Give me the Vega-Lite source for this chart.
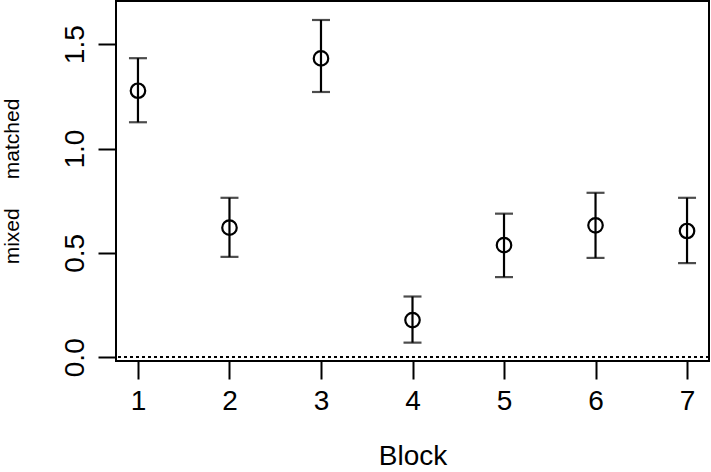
{
  "$schema": "https://vega.github.io/schema/vega-lite/v6.json",
  "width": 593,
  "height": 360,
  "autosize": {"type": "none"},
  "padding": {"left": 116, "top": 1, "right": 2, "bottom": 111},
  "background": "white",
  "config": {
    "view": {"stroke": "black", "strokeWidth": 2},
    "font": "Liberation Sans",
    "axis": {
      "grid": false,
      "domain": false,
      "tickColor": "black",
      "tickWidth": 2,
      "tickSize": 18,
      "labelColor": "black",
      "titleColor": "black",
      "titleFontWeight": "normal",
      "labelFont": "Liberation Sans",
      "titleFont": "Liberation Sans"
    }
  },
  "data": {
    "values": [
      {"Block": 1, "est": 1.277, "lower": 1.126, "upper": 1.433},
      {"Block": 2, "est": 0.621, "lower": 0.481, "upper": 0.764},
      {"Block": 3, "est": 1.432, "lower": 1.271, "upper": 1.616},
      {"Block": 4, "est": 0.178, "lower": 0.070, "upper": 0.291},
      {"Block": 5, "est": 0.537, "lower": 0.384, "upper": 0.688},
      {"Block": 6, "est": 0.632, "lower": 0.476, "upper": 0.788},
      {"Block": 7, "est": 0.605, "lower": 0.451, "upper": 0.764}
    ]
  },
  "encoding": {
    "x": {
      "field": "Block",
      "type": "quantitative",
      "scale": {"domain": [0.76, 7.24], "nice": false, "zero": false},
      "axis": {
        "values": [1, 2, 3, 4, 5, 6, 7],
        "format": "d",
        "title": "Block",
        "labelFontSize": 28,
        "titleFontSize": 28,
        "labelPadding": 8,
        "titlePadding": 27,
        "labelFlush": false,
        "labelOverlap": false
      }
    }
  },
  "layer": [
    {
      "mark": {"type": "rule", "strokeDash": [3, 3], "strokeWidth": 1.5, "color": "black"},
      "encoding": {"y": {"datum": 0, "type": "quantitative"}, "x": null}
    },
    {
      "mark": {"type": "rule", "color": "black", "strokeWidth": 2.2},
      "encoding": {
        "y": {
          "field": "lower",
          "type": "quantitative",
          "scale": {"domain": [-0.018, 1.707], "nice": false, "zero": false},
          "axis": {
            "values": [0, 0.5, 1, 1.5],
            "format": ".1f",
            "title": "mixed\u00a0\u00a0\u00a0\u00a0\u00a0matched",
            "labelFontSize": 28,
            "labelAngle": -90,
            "labelAlign": "center",
            "labelBaseline": "alphabetic",
            "labelPadding": 15,
            "titleFontSize": 21,
            "titlePadding": 39
          }
        },
        "y2": {"field": "upper"}
      }
    },
    {
      "mark": {"type": "tick", "orient": "horizontal", "color": "black", "thickness": 2.2, "size": 18},
      "encoding": {"y": {"field": "lower", "type": "quantitative"}}
    },
    {
      "mark": {"type": "tick", "orient": "horizontal", "color": "black", "thickness": 2.2, "size": 18},
      "encoding": {"y": {"field": "upper", "type": "quantitative"}}
    },
    {
      "mark": {"type": "point", "shape": "circle", "filled": false, "color": "black", "strokeWidth": 2.2, "size": 210, "opacity": 1},
      "encoding": {"y": {"field": "est", "type": "quantitative"}}
    }
  ]
}
